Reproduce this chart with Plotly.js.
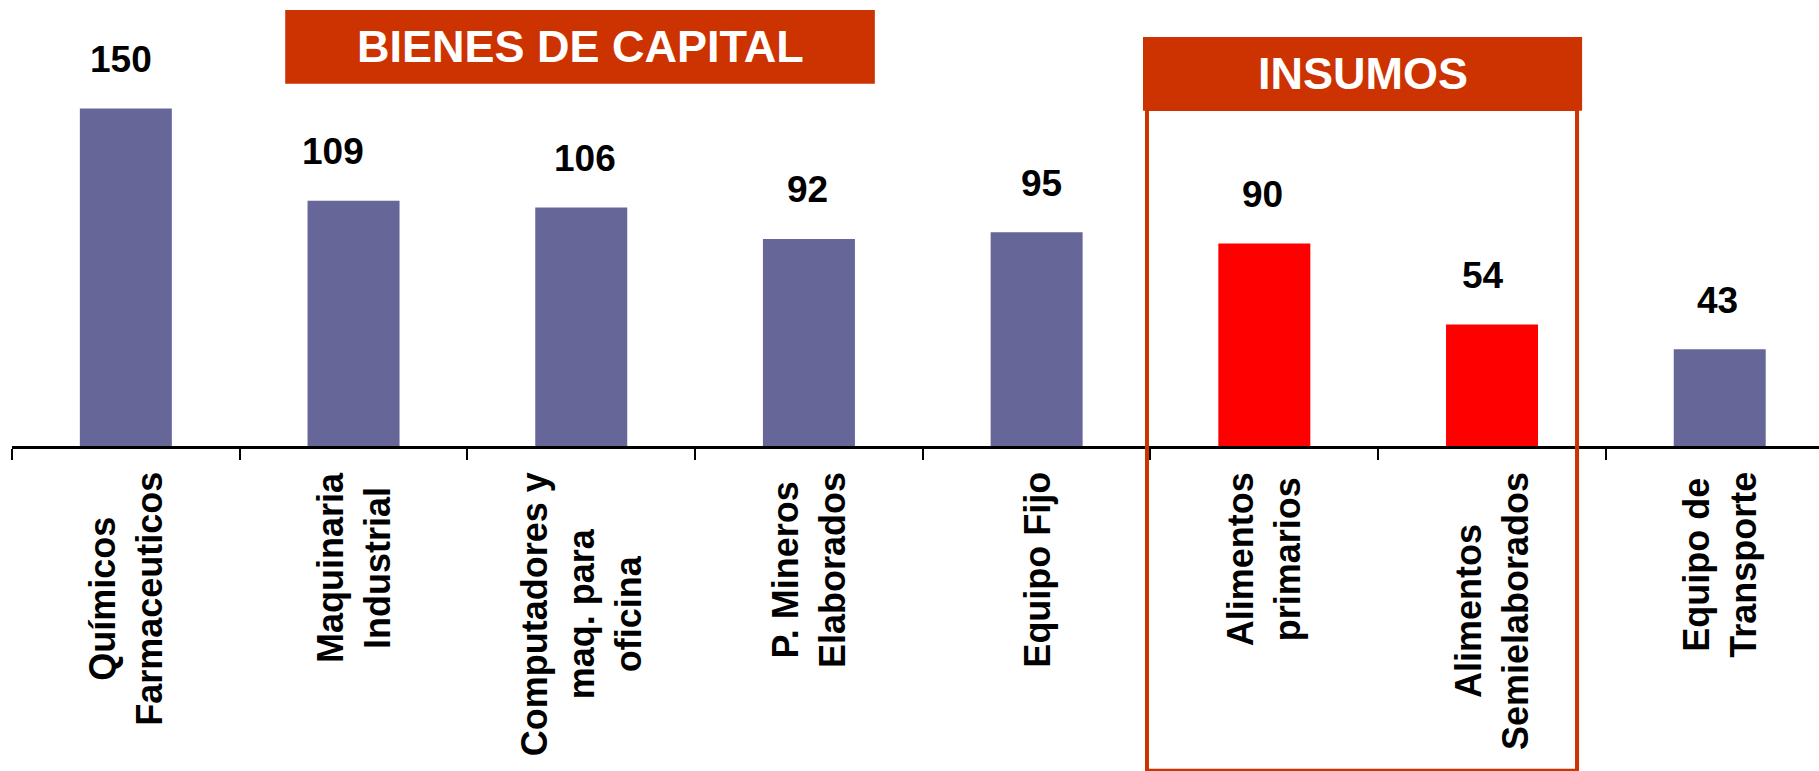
<!DOCTYPE html>
<html>
<head>
<meta charset="utf-8">
<script src="https://cdn.plot.ly/plotly-3.0.1.min.js"></script>
<style>
  html, body { margin: 0; padding: 0; background: #fff; }
  #chart { width: 1819px; height: 771px; }
</style>
</head>
<body>
<div id="chart"></div>
<script>
// categories and values
const categories = [
    'Químicos<br>Farmaceuticos',
    'Maquinaria<br>Industrial',
    'Computadores y<br>maq. para<br>oficina',
    'P. Mineros<br>Elaborados',
    'Equipo Fijo',
    'Alimentos<br>primarios',
    'Alimentos<br>Semielaborados',
    'Equipo de<br>Transporte'
];
const values = [150, 109, 106, 92, 95, 90, 54, 43];
const groups = ['capital', 'capital', 'capital', 'capital', 'capital', 'insumos', 'insumos', 'capital'];

const FONT = 'Arial, "Liberation Sans", sans-serif';
const barColors = groups.map(g => g === 'insumos' ? '#FF0000' : '#666699');
const idx = categories.map((c, i) => i);

// small nudges of the value labels, in px
const labelXShift = [-5, -21, 4, -1, 5, -2, -9, -2];

const data = [{
    type: 'bar',
    x: idx,
    y: values,
    width: 0.404,
    marker: { color: barColors, line: { width: 0 } },
    hoverinfo: 'skip'
}];

const valueLabels = values.map((v, i) => ({
    x: i, y: v, xref: 'x', yref: 'y',
    text: '<b>' + v + '</b>',
    showarrow: false,
    xanchor: 'center', yanchor: 'middle',
    xshift: labelXShift[i], yshift: 49,
    font: { family: FONT, size: 37, color: '#000' }
}));

const catLabels = categories.map((c, i) => ({
    x: i, y: 0, xref: 'x', yref: 'y',
    text: '<b>' + c + '</b>',
    showarrow: false,
    textangle: -90,
    align: 'center',
    xanchor: 'center', yanchor: 'top',
    yshift: -24,
    font: { family: FONT, size: 36, color: '#000' }
}));

const boxTitles = [
    { x: 0.3144, y: 0.983, text: '<b>BIENES DE CAPITAL</b>' },
    { x: 0.7474, y: 0.917, text: '<b>INSUMOS</b>' }
].map(a => Object.assign({
    xref: 'paper', yref: 'paper', showarrow: false,
    xanchor: 'center', yanchor: 'middle',
    font: { family: FONT, size: 45, color: '#FFFFFF' }
}, a));

const layout = {
    width: 1819,
    height: 771,
    margin: { l: 12, r: 0, t: 40, b: 325 },
    paper_bgcolor: '#FFFFFF',
    plot_bgcolor: '#FFFFFF',
    showlegend: false,
    xaxis: {
        type: 'linear',
        range: [-0.5, 7.436],
        showgrid: false,
        zeroline: false,
        showline: true,
        linecolor: '#000',
        linewidth: 2.5,
        ticks: 'outside',
        tickvals: [-0.5, 0.5, 1.5, 2.5, 3.5, 4.5, 5.5, 6.5],
        ticklen: 11,
        tickwidth: 2,
        tickcolor: '#000',
        showticklabels: false,
        fixedrange: true
    },
    yaxis: {
        range: [0, 180.4],
        visible: false,
        fixedrange: true
    },
    shapes: [
        // outline around the insumos group
        {
            type: 'rect', xref: 'paper', yref: 'paper',
            x0: 0.6281, x1: 0.8661, y0: -0.8, y1: 0.83,
            line: { color: '#CC3300', width: 4 },
            fillcolor: 'rgba(0,0,0,0)', layer: 'above'
        },
        {
            type: 'rect', xref: 'paper', yref: 'paper',
            x0: 0.1512, x1: 0.4775, y0: 0.8924, y1: 1.0739,
            line: { width: 0 }, fillcolor: '#CC3300', layer: 'above'
        },
        {
            type: 'rect', xref: 'paper', yref: 'paper',
            x0: 0.6259, x1: 0.8689, y0: 0.8259, y1: 1.0074,
            line: { width: 0 }, fillcolor: '#CC3300', layer: 'above'
        }
    ],
    annotations: valueLabels.concat(catLabels, boxTitles)
};

Plotly.newPlot('chart', data, layout, { displayModeBar: false, staticPlot: true });
</script>
</body>
</html>
